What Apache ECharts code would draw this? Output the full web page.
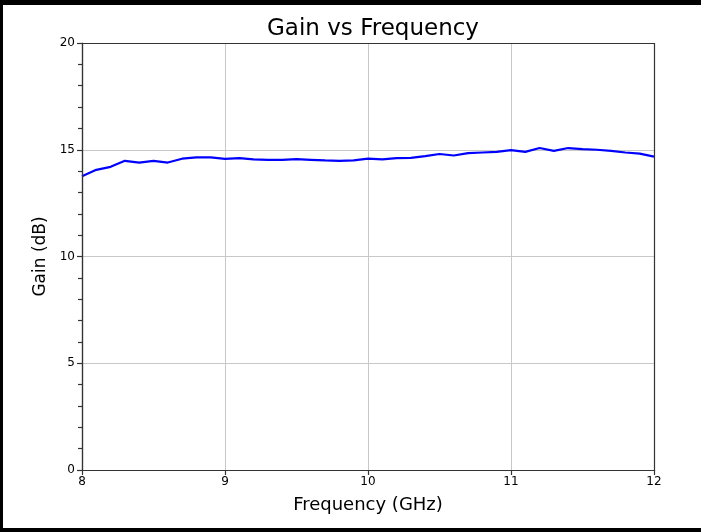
<!DOCTYPE html>
<html>
<head>
<meta charset="utf-8">
<script src="https://cdn.jsdelivr.net/npm/echarts@6/dist/echarts.min.js"></script>
<style>
  html, body { margin: 0; padding: 0; background: #fff; }
  #wrap { position: relative; width: 701px; height: 532px; }
  #chart { width: 701px; height: 532px; }
  /* black frame around the picture (top, left, bottom) */
  #frame { position: absolute; left: 0; top: 0; width: 701px; height: 532px; box-sizing: border-box;
           border-top: 5px solid #000; border-left: 3px solid #000; border-bottom: 4px solid #000;
           pointer-events: none; }
</style>
</head>
<body>
<div id="wrap">
  <div id="chart"></div>
  <div id="frame"></div>
</div>
<script>
// frequency points (GHz) and measured gain (dB)
const freq = [8.0, 8.1, 8.2, 8.3, 8.4, 8.5, 8.6, 8.7, 8.8, 8.9,
              9.0, 9.1, 9.2, 9.3, 9.4, 9.5, 9.6, 9.7, 9.8, 9.9,
              10.0, 10.1, 10.2, 10.3, 10.4, 10.5, 10.6, 10.7, 10.8, 10.9,
              11.0, 11.1, 11.2, 11.3, 11.4, 11.5, 11.6, 11.7, 11.8, 11.9, 12.0];
const gain = [13.76, 14.06, 14.2, 14.48, 14.4, 14.48, 14.4, 14.58, 14.64, 14.64,
              14.57, 14.61, 14.55, 14.53, 14.53, 14.56, 14.53, 14.5, 14.48, 14.5,
              14.58, 14.55, 14.61, 14.62, 14.7, 14.8, 14.73, 14.84, 14.87, 14.9,
              14.98, 14.9, 15.08, 14.95, 15.08, 15.03, 15.0, 14.95, 14.87, 14.82, 14.68];

const xTicks = { min: 8, max: 12, step: 1 };
const yTicks = { min: 0, max: 20, step: 5 };

const chart = echarts.init(document.getElementById('chart'), null, { renderer: 'canvas' });
const font = 'DejaVu Sans';
const axisColor = '#333';

chart.setOption({
  animation: false,
  title: {
    text: 'Gain vs Frequency',
    left: 368, top: 13, textAlign: 'center',
    textStyle: { fontFamily: font, fontSize: 23, fontWeight: 'normal', color: '#000' }
  },
  grid: { left: 82, right: 47, top: 43, bottom: 62, containLabel: false },
  xAxis: {
    type: 'value', min: xTicks.min, max: xTicks.max, interval: xTicks.step,
    name: 'Frequency (GHz)', nameLocation: 'middle', nameGap: 26,
    nameTextStyle: { fontFamily: font, fontSize: 18, color: '#000' },
    axisLine: { show: true, onZero: false, lineStyle: { color: axisColor, width: 1.2 } },
    axisTick: { show: true, inside: false, length: 5, lineStyle: { color: axisColor, width: 1.2 } },
    axisLabel: { fontFamily: font, fontSize: 12, color: '#000', margin: 6 },
    splitLine: { show: true, lineStyle: { color: '#c8c8c8', width: 1 } }
  },
  yAxis: {
    type: 'value', min: yTicks.min, max: yTicks.max, interval: yTicks.step,
    name: 'Gain (dB)', nameLocation: 'middle', nameGap: 32, nameRotate: 90,
    nameTextStyle: { fontFamily: font, fontSize: 17, color: '#000' },
    axisLine: { show: true, onZero: false, lineStyle: { color: axisColor, width: 1.2 } },
    axisTick: { show: true, inside: false, length: 5, lineStyle: { color: axisColor, width: 1.2 } },
    minorTick: { show: true, splitNumber: 5, length: 4, lineStyle: { color: axisColor, width: 1.2 } },
    axisLabel: { fontFamily: font, fontSize: 12, color: '#000', margin: 7 },
    splitLine: { show: true, lineStyle: { color: '#c8c8c8', width: 1 } }
  },
  series: [{
    type: 'line',
    data: freq.map((f, i) => [f, gain[i]]),
    showSymbol: false,
    lineStyle: { color: '#0000ff', width: 2.2 },
    itemStyle: { color: '#0000ff' }
  }]
});

// draw top/right spines along the grid's edges
const rect = chart.getModel().getComponent('grid').coordinateSystem.getRect();
chart.setOption({
  graphic: [{
    type: 'rect', silent: true, z: 10,
    shape: { x: rect.x + 0.5, y: rect.y + 0.5, width: rect.width, height: rect.height },
    style: { fill: null, stroke: axisColor, lineWidth: 1.2 }
  }]
});
</script>
</body>
</html>
